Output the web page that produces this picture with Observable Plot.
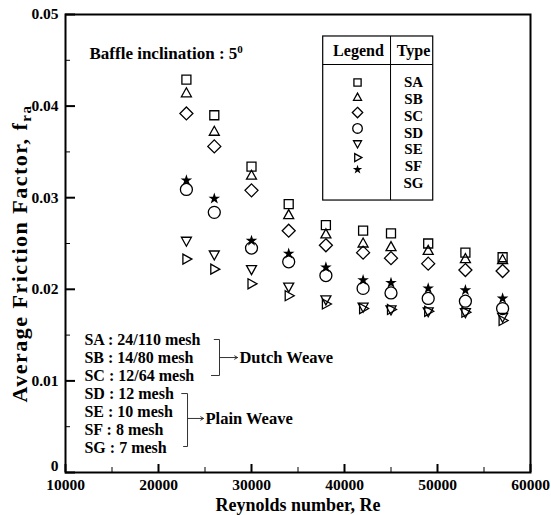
<!DOCTYPE html>
<html><head><meta charset="utf-8">
<script src="https://cdn.jsdelivr.net/npm/d3@7"></script>
<script src="https://cdn.jsdelivr.net/npm/@observablehq/plot@0.6"></script>
<style>body{margin:0;background:#fff;} #chart svg{display:block;}</style>
</head><body><div id="chart"></div>
<script>
// ---- data ----
const reynolds = [23000, 26000, 30000, 34000, 38000, 42000, 45000, 49000, 53000, 57000];
const typeNames = ["SA", "SB", "SC", "SD", "SE", "SF", "SG"];
const SA = [0.0429, 0.0390, 0.0334, 0.0293, 0.0270, 0.0264, 0.0261, 0.0250, 0.0240, 0.0235];
const SB = [0.0414, 0.0372, 0.0324, 0.0281, 0.0260, 0.0250, 0.0246, 0.0242, 0.0233, 0.0232];
const SC = [0.0392, 0.0356, 0.0308, 0.0264, 0.0248, 0.0240, 0.0234, 0.0228, 0.0221, 0.0220];
const SD = [0.0309, 0.0284, 0.0245, 0.0230, 0.0215, 0.0201, 0.0196, 0.0190, 0.0187, 0.0179];
const SE = [0.0253, 0.0238, 0.0222, 0.0203, 0.0189, 0.0181, 0.0178, 0.0176, 0.0175, 0.0170];
const SF = [0.0233, 0.0222, 0.0206, 0.0193, 0.0184, 0.0179, 0.0178, 0.0176, 0.0175, 0.0166];
const SG = [0.0319, 0.0299, 0.0253, 0.0239, 0.0224, 0.0210, 0.0207, 0.0201, 0.0199, 0.0190];
const xTicks = [10000, 20000, 30000, 40000, 50000, 60000];
const xMinorTicks = [15000, 25000, 35000, 45000, 55000];
const yTicks = [0, 0.01, 0.02, 0.03, 0.04, 0.05];
const yMinorTicks = [0.005, 0.015, 0.025, 0.035, 0.045];
const xLabel = "Reynolds number, Re";
const yLabel = "Average Friction Factor, f";
const yLabelSub = "ra";
const noteTitle = "Baffle inclination : 5";
const noteTitleSup = "0";
const legendHeader = ["Legend", "Type"];
const meshLabels = ["SA : 24/110 mesh", "SB : 14/80 mesh", "SC : 12/64 mesh",
                    "SD : 12 mesh", "SE : 10 mesh", "SF : 8 mesh", "SG : 7 mesh"];
const groupLabels = ["Dutch Weave", "Plain Weave"];

// ---- annotation anchors (data units) ----
const legendBox = {x1: 37710, x2: 49540, xDiv: 44950, yTop: 0.0476, yHead: 0.04454, yBottom: 0.02969};
const legendHeadX = [41500, 47420], legendHeadY = 0.04607;
const legendSymX = 41400, legendTypeX = 47420;
const legendRowY = [0.04258, 0.04076, 0.03893, 0.03709, 0.03526, 0.03343, 0.03159];
const legendSymY = [0.04258, 0.04094, 0.03930, 0.03756, 0.03591, 0.03438, 0.03307];
const titlePos = {x: 12580, y: 0.04574};
const meshX = 12040;
const meshY = [0.01452, 0.01255, 0.01059, 0.00862, 0.00666, 0.00469, 0.00273];
const dutch = {xv: 26560, xTop: 25950, xBot: 25650, yTop: 0.01452, yBot: 0.01059, yArrow: 0.01255, xArrow: 28500, xText: 28700};
const plain = {xv: 23120, xTop: 22450, xBot: 22650, yTop: 0.00862, yBot: 0.00284, yArrow: 0.0059, xArrow: 24850, xText: 25050};

// ---- symbols ----
const kOf = size => Math.sqrt(size / (Math.PI * 36));
const poly = pts => ({draw(ctx, size) {
  const k = kOf(size);
  ctx.moveTo(pts[0][0] * k, pts[0][1] * k);
  for (let i = 1; i < pts.length; i++) ctx.lineTo(pts[i][0] * k, pts[i][1] * k);
  ctx.closePath();
}});
const symbols = [
  poly([[-4.5, -4.5], [4.5, -4.5], [4.5, 4.5], [-4.5, 4.5]]),
  poly([[0, -5.5], [5, 3.5], [-5, 3.5]]),
  poly([[0, -6.5], [6.5, 0], [0, 6.5], [-6.5, 0]]),
  {draw(ctx, size) { const r = 6 * kOf(size); ctx.moveTo(r, 0); ctx.arc(0, 0, r, 0, 2 * Math.PI); }},
  poly([[-5, -3.5], [5, -3.5], [0, 5.5]]),
  poly([[-3.5, -5], [5.5, 0], [-3.5, 5]]),
  {draw(ctx, size) { const k = kOf(size); d3.symbolStar.draw(ctx, 42 * k * k); }}
];

const values = [SA, SB, SC, SD, SE, SF, SG];
const rows = typeNames.flatMap((t, i) => reynolds.map((re, j) => ({re, f: values[i][j], type: t})));

const dotStyle = t => t === "SG"
  ? {fill: "black", stroke: "none"}
  : {fill: "none", stroke: "black", strokeWidth: 1.3};

const marks = [];
typeNames.forEach((t, i) => {
  marks.push(Plot.dot(rows.filter(d => d.type === t), {x: "re", y: "f", symbol: symbols[i], r: 6, ...dotStyle(t)}));
});
// ticks (inward)
marks.push(Plot.ruleX(xTicks, {x: d => d, insetTop: 450, strokeWidth: 2}));
marks.push(Plot.ruleX(xMinorTicks, {x: d => d, insetTop: 453, strokeWidth: 1}));
marks.push(Plot.ruleY(yTicks, {y: d => d, insetRight: 455, strokeWidth: 2}));
marks.push(Plot.ruleY(yMinorTicks, {y: d => d, insetRight: 460, strokeWidth: 1}));
marks.push(Plot.frame({strokeWidth: 2}));
// tick labels
marks.push(Plot.axisX(xTicks, {tickSize: 0, tickPadding: 6, tickFormat: d => String(d), fontSize: 15.5, label: null}));
marks.push(Plot.axisY(yTicks.filter(d => d > 0), {tickSize: 0, tickPadding: 7, tickFormat: d => String(d), fontSize: 15.5, label: null}));
marks.push(Plot.text(yTicks.filter(d => d === 0), {y: d => d, frameAnchor: "left", dx: -7, dy: -6, textAnchor: "end", text: d => String(d), fontSize: 15.5}));
// axis titles
marks.push(Plot.text([xLabel], {frameAnchor: "bottom", dy: 33, text: d => d, fontSize: 18, lineAnchor: "middle"}));
marks.push(Plot.text([yLabel], {frameAnchor: "left", dx: -46, dy: 10, rotate: -90, text: d => d, textAnchor: "middle", fontSize: 22, lineAnchor: "middle"}));
// title note
marks.push(Plot.text([noteTitle], {x: titlePos.x, y: titlePos.y, text: d => d, textAnchor: "start", fontSize: 17}));
// legend box
marks.push(Plot.rect([legendBox], {x1: "x1", x2: "x2", y1: "yBottom", y2: "yTop", fill: "white", stroke: "black", strokeWidth: 1.2}));
marks.push(Plot.ruleY([legendBox.yHead], {x1: legendBox.x1, x2: legendBox.x2, strokeWidth: 1}));
marks.push(Plot.ruleX([legendBox.xDiv], {y1: legendBox.yBottom, y2: legendBox.yTop, strokeWidth: 1}));
marks.push(Plot.text(legendHeader, {x: (d, i) => legendHeadX[i], y: legendHeadY, text: d => d, fontSize: 16}));
typeNames.forEach((t, i) => {
  marks.push(Plot.dot([legendSymY[i]], {x: legendSymX, y: d => d, symbol: symbols[i], r: 4.8, ...dotStyle(t)}));
});
marks.push(Plot.text(typeNames, {x: legendTypeX, y: (d, i) => legendRowY[i], text: d => d, fontSize: 15}));
// mesh notes
marks.push(Plot.text(meshLabels, {x: meshX, y: (d, i) => meshY[i], text: d => d, textAnchor: "start", fontSize: 16}));
// brackets
const br = (b) => [
  {x1: b.xTop, y1: b.yTop, x2: b.xv, y2: b.yTop},
  {x1: b.xv, y1: b.yTop, x2: b.xv, y2: b.yBot},
  {x1: b.xBot, y1: b.yBot, x2: b.xv, y2: b.yBot}
];
marks.push(Plot.link([...br(dutch), ...br(plain)], {x1: "x1", y1: "y1", x2: "x2", y2: "y2", stroke: "#333", strokeWidth: 1}));
marks.push(Plot.arrow([dutch, plain], {x1: "xv", y1: "yArrow", x2: "xArrow", y2: "yArrow", headLength: 5, strokeWidth: 1, stroke: "#333"}));
marks.push(Plot.text(groupLabels, {x: (d, i) => [dutch, plain][i].xText, y: (d, i) => [dutch, plain][i].yArrow, text: d => d, textAnchor: "start", fontSize: 16.5}));

const chart = Plot.plot({
  width: 551, height: 515,
  marginLeft: 65, marginRight: 21, marginTop: 14, marginBottom: 43,
  x: {domain: [10000, 60000]},
  y: {domain: [0, 0.05]},
  style: {fontFamily: "'Liberation Serif', 'Times New Roman', serif", fontWeight: "bold", background: "white", color: "black", overflow: "visible"},
  marks
});
document.getElementById("chart").appendChild(chart);

// superscript / subscript
d3.select(chart).selectAll("text").each(function() {
  const s = d3.select(this);
  if (this.textContent === noteTitle) {
    s.append("tspan").attr("dy", "-0.5em").attr("font-size", 11).text(noteTitleSup);
  } else if (this.textContent === yLabel) {
    s.style("letter-spacing", "1.5px");
    s.append("tspan").attr("dy", "0.3em").attr("font-size", 15).text(yLabelSub);
  }
});
</script>
</body></html>
